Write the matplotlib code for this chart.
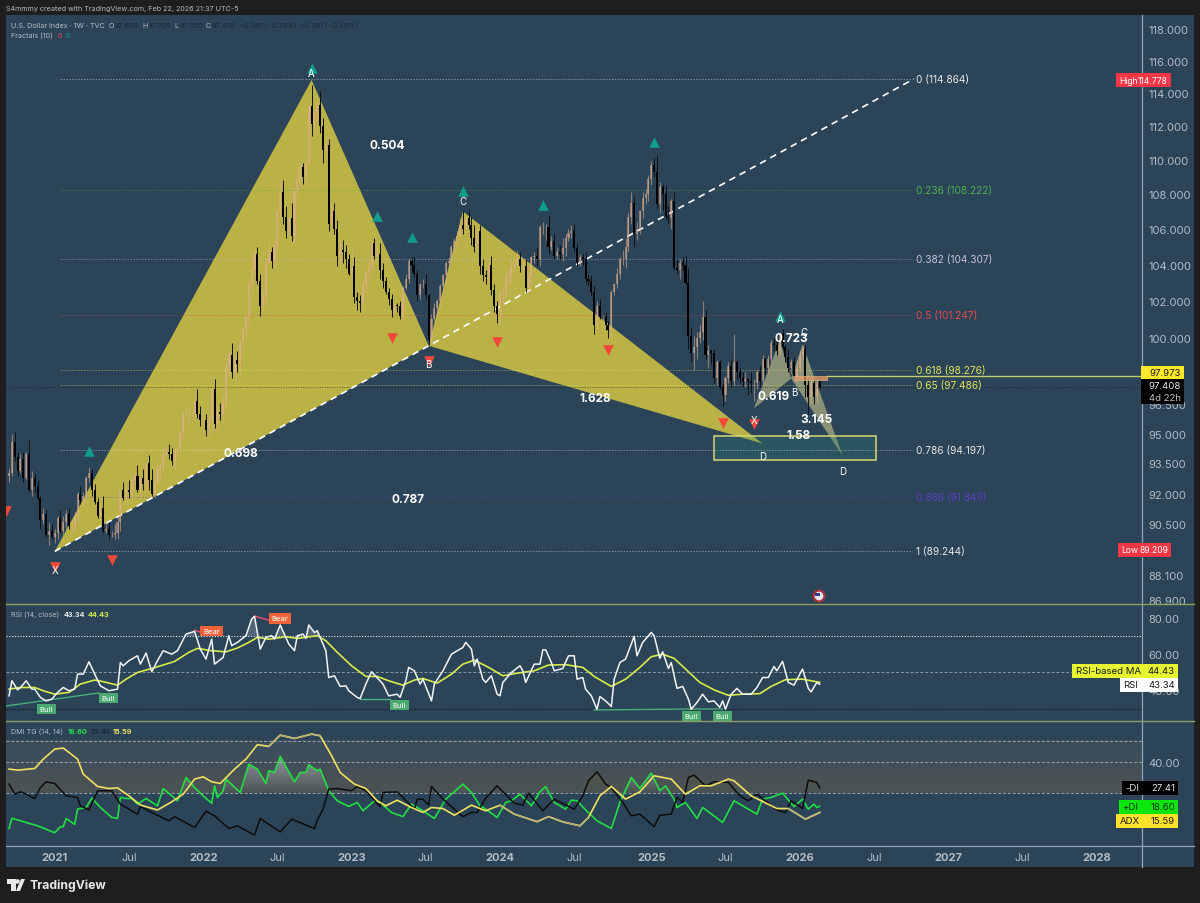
import numpy as np
import pandas as pd
import matplotlib
matplotlib.use("Agg")
import matplotlib.pyplot as plt
from matplotlib.patches import Rectangle, Polygon, Circle
from matplotlib.path import Path
from matplotlib.ticker import NullLocator, FixedLocator, FixedFormatter

plt.rcParams["font.family"] = ["Inter", "DejaVu Sans"]

# weekly closes of DXY (Sep 2020 -> Feb 2026)
close_2020 = [93.0,94.6,93.8,93.1,93.7,92.8,94.0,92.2,92.8,92.4,91.8,90.7,91.0,90.0,90.2,89.9]
close_2021 = [90.1,90.8,90.2,90.6, 91.0,90.4,90.4,90.9, 92.0,91.7,91.9,92.8,93.0, 92.2,91.6,90.9,91.3,
              90.2,90.3,90.0,90.0,90.1, 90.6,92.2,91.8,92.2, 92.1,92.7,92.9,92.2, 92.8,92.5,93.5,92.7,92.0,
              92.6,93.2,93.3,94.0, 94.1,94.0,93.6,94.1, 94.3,95.1,96.0,96.1,96.1, 96.1,96.7,96.0,95.7]
close_2022 = [95.7,95.2,95.6,97.3,95.5, 96.1,96.0,96.6,98.5, 99.1,98.2,98.8,98.6, 99.8,100.5,101.1,103.0,
              103.7,104.6,103.1,101.7,102.2, 104.1,104.7,104.2,105.1, 107.0,108.1,106.7,105.9,
              106.6,105.6,108.2,108.8,109.6, 109.0,109.8,113.2,112.1, 112.8,113.3,112.0,110.6,110.9,
              106.3,107.0,106.0,104.5, 104.8,104.7,104.3,103.5]
close_2023 = [103.9,102.2,102.0,101.9,102.9, 103.6,103.9,105.2,104.5, 104.6,103.7,103.1,102.5, 102.1,101.5,101.8,101.7,
              101.2,102.7,103.2,104.2,104.0, 103.5,102.3,102.9,102.9, 102.3,99.9,101.0,101.6,102.0,
              102.8,103.4,104.1,104.2, 105.0,105.3,105.6,106.2, 106.0,106.6,106.2,105.5,105.0,
              105.9,103.9,103.4,103.3, 104.0,102.6,101.7,101.3]
close_2024 = [102.4,102.4,103.3,103.4,103.9, 104.1,104.3,103.9,103.9, 102.7,103.4,104.4,104.5, 104.3,106.1,106.1,106.1,105.0,
              105.3,104.5,104.7,104.6, 104.9,105.5,105.8,105.9, 104.9,104.1,104.4,104.3,103.2,
              103.1,102.5,100.7,101.7, 101.1,101.1,100.7,100.4,102.5, 102.9,103.5,104.3,104.3,
              105.0,106.7,107.5,105.7, 106.0,107.0,107.8,108.0,108.9]
close_2025 = [109.7,109.3,107.4,108.4, 108.0,106.7,106.6,107.6, 103.8,103.7,104.1,104.0,103.0, 100.1,99.2,99.5,100.0,
              100.3,101.1,99.1,99.3, 99.2,97.9,98.7,97.4,97.0, 97.9,98.5,97.7,98.7, 98.2,97.9,97.7,97.8,
              97.7,97.6,97.6,98.2,97.7, 98.9,98.4,98.9,99.7, 99.6,99.3,100.2,99.5, 99.0,98.4,98.7,98.0,98.4]
close_2026 = [99.1,99.4,97.5,96.9,97.6,96.9,97.698,97.408]

# wick lengths above / below the body, same order
upw_2020 = [.2,.4,.5,.3,.3,.4,.1,.7,.3,.2,.3,.1,.3,.2,.4,.3]
loww_2020 = [.3,.1,.2,.2,.1,.2,.1,.1,.3,.3,.1,.4,.2,.1,.5,.1]
upw_2021 = [.2,.1,.4,.3, .2,.3,.3,.2, .1,.4,.2,.1,.3, .2,.3,.2,.2, .6,.4,.3,.2,.4, .2,.0,.4,.2,
            .5,.1,.2,.5, .1,.4,.0,.4,.5, .1,.3,.2,.4, .3,.4,.3,.2, .0,.1,.1,.2,.2, .1,.2,.6,.4]
loww_2021 = [.3,.3,.1,.2, .3,.1,.2,.3, .3,.2,.3,.4,.2, .3,.1,.1,.2, .1,.1,.2,.1,.2, .3,.4,.1,.2,
             .3,.3,.2,.1, .4,.3,.4,.5,.1, .2,.1,.5,.2, .1,.3,.2,.4, .4,.2,.3,.1,.5, .2,.3,.2,.3]
upw_2022 = [.4,.3,.3,.1,.5, .3,.5,.4,.2, .2,.6,.3,.5, .1,.2,.1,.1, .2,.3,.4,.4,.3, .1,.5,.3,.3,
            .1,.6,.7,.6, .1,.9,.0,.4,.2, .2,.2,.4,1.3, .2,.2,.8,.5,.4, .3,.5,.5,.5, .5,.6,.4,.3]
loww_2022 = [.4,.3,.3,.5,.2, .4,.3,.5,.3, .6,.3,.5,.4, .5,.3,.4,.6, .4,.3,.2,.5,.2, .5,.2,.4,.4,
             .4,.3,.4,.4, .3,.3,.4,.3,.4, .4,.3,.1,.7, .4,.5,.4,.8,.3, .4,.3,.3,.6, .6,.6,.5,.1]
upw_2023 = [.9,.5,.3,.3,.4, .1,.4,.1,.3, .7,.6,.4,.2, .2,.3,.1,.1, .3,.1,.3,.1,.2, .4,.2,.1,.3, .6,.1,.3,.3,.1,
            .1,.1,.1,.2, .1,.2,.3,.4, .8,.1,.5,.5,.7, .1,.3,.4,.3, .2,.5,.3,.3]
loww_2023 = [.3,.3,.5,.5,.5, .4,.6,.2,.2, .2,.5,.4,.1, .3,.4,.2,.3, .2,.3,.1,.2,.4, .2,.3,.2,.2, .2,.3,.2,.1,.4,
             .4,.2,.3,.3, .2,.3,.3,.2, .3,.3,.2,.4,.3, .2,.4,.3,.4, .3,.3,.3,.5]
upw_2024 = [.2,.3,.3,.3,.4, .2,.5,.4,.3, .4,.2,.1,.2, .5,.1,.3,.2,.7, .3,.5,.3,.4, .6,.2,.2,.3,
            .4,.3,.2,.2,.4, .3,.3,.3,.3, .4,.1,.3,.2,.1, .1,.3,.1,.5, .5,.2,.6,.4, .4,.1,.3,.3,.2]
loww_2024 = [.6,.5,.1,.5,.4, .2,.3,.3,.2, .2,.2,.4,.3, .4,.4,.4,.7,.4, .2,.2,.2,.3, .4,.4,.2,.3, .2,.2,.2,.3,.3,
             .3,.2,.5,.2, .1,.2,.3,.4,.4, .2,.2,.3,.3, .5,.3,.4,.7, .3,.3,.4,.4,.4]
upw_2025 = [.2,.4,.9,.3, .2,.5,.6,.1, .5,.5,.2,.3,.5, .8,.5,.6,.3, .4,.9,.4,.3, .1,.2,.1,.1,.2,
            .1,.2,.4,1.5, .1,.2,.3,.4, .1,.5,.2,.1,.3, .2,.1,.2,.2, .3,.4,.1,.3, .1,.4,.2,.3,.4]
loww_2025 = [.4,.3,.2,.5, .9,.2,.3,.6, .1,.2,.5,.3,.1, .7,.5,.9,.6, .3,.4,.2,.7, .6,.3,.4,.1,.6,
             .3,.3,.3,.2, .4,.3,.3,.3, .7,.5,.9,.3,.3, .2,.3,.3,.2, .3,.2,.2,.1, .3,.2,.3,.2,.4]
upw_2026 = [.2,.2,.2,.3,.2,.2,.1,.0]
loww_2026 = [.2,.3,.6,.9,.4,.4,.3,.05]

# RSI line: week number, value
rsi_wk = [0,1,3,4,6,8,9,11,13,15,17,19,21,23,24,26,28,30,32,35,38,39,40,42,45,46,48,50,52,54,57,59,62,65,67,69,71,72,75,77,78,80,83,85,86,88,90,92,93,95,98,100,101,103,104,105,107,108,111,112,114,116,118,119,122,123,125,127,131,133,136,137,139,140,142,144,
          145,148,149,152,155,159,160,162,163,164,166,167,169,171,172,173,176,179,180,181,184,186,187,188,190,191,194,196,198,199,201,202,204,206,207,209,211,212,214,216,219,220,222,225,226,228,229,231,232,234,236,238,239,241,243,245,247,249,250,251,253,255,257,260,262,264,266,268,269,271,273,275,278,280,281,283,284]
rsi_val = [37.0,45.3,40.3,41.6,45.3,40.7,40.7,36.1,34.2,35.2,38.9,41.6,39.8,40.7,49.0,49.0,55.8,49.0,42.5,39.8,40.7,55.4,53.6,56.4,59.1,54.5,60.6,50.3,56.4,61.9,60.0,61.9,71.1,72.6,62.8,57.3,68.3,54.5,58.2,70.2,64.7,66.5,70.2,79.4,80.9,62.8,69.3,70.2,68.3,76.1,65.6,61.9,70.2,71.1,68.7,76.1,72.0,72.9,61.9,47.1,48.1,42.2,42.5,39.8,36.1,35.5,43.5,50.3,43.5,37.0,37.9,36.1,45.3,52.7,50.8,43.5,
           46.2,34.2,43.5,50.8,60.0,63.7,66.5,62.8,53.6,57.3,46.2,44.4,48.1,37.9,37.0,44.4,49.9,53.6,50.8,44.4,54.5,54.5,62.4,62.4,55.4,50.8,52.1,59.1,59.1,46.2,47.1,40.7,37.0,29.6,36.6,34.2,31.1,46.2,55.4,57.3,69.8,59.1,66.5,72.0,70.2,57.7,61.3,52.1,55.4,41.1,42.2,35.2,29.6,33.3,37.9,33.7,34.2,30.6,34.2,29.6,37.9,41.1,37.9,37.9,41.6,47.1,47.1,53.2,50.8,56.0,44.4,42.9,51.8,41.1,39.2,44.4,43.34]
ma_wk = [0,4,9,12,16,21,25,30,33,38,41,45,50,55,58,63,66,71,76,80,84,87,91,97,101,108,111,115,120,125,129,133,138,142,145,150,155,159,163,168,173,178,184,189,195,201,205,211,216,221,225,229,233,237,242,247,252,257,263,267,272,278,284]
ma_val = [40.7,41.6,41.6,39.8,37.9,38.9,43.5,45.7,44.8,42.9,46.2,49.9,52.1,54.5,56.0,61.0,63.2,61.9,61.3,63.4,66.5,69.3,68.3,69.6,68.7,70.2,67.4,61.0,53.6,47.7,47.7,45.3,42.9,45.7,46.6,44.0,49.0,54.5,56.7,52.7,48.1,49.5,50.8,54.0,54.2,52.7,47.7,42.2,46.2,52.7,58.6,60.0,57.7,51.8,44.4,40.3,37.3,37.9,38.2,42.2,45.9,46.2,44.43]

# DMI lines
adx_wk = [0,3,9,12,16,19,24,26,31,35,38,42,46,52,57,61,65,68,71,74,79,83,87,91,95,100,106,109,113,116,121,125,129,132,136,141,145,
          148,152,156,162,167,172,177,185,189,194,200,203,207,211,216,221,226,232,237,242,246,252,254,260,269,273,279,284]
adx_val = [36.4,35.9,36.7,41.2,46.0,46.5,41.2,34.0,28.1,27.1,27.4,23.6,19.2,16.8,20.7,24.4,31.6,32.7,30.3,29.5,36.4,41.2,48.1,47.3,52.7,51.1,53.2,52.4,42.8,34.8,29.2,27.1,21.2,18.8,21.5,18.0,15.6,
           18.0,17.5,14.3,19.1,16.4,19.1,14.8,11.2,13.6,11.1,9.2,13.2,23.6,28.1,22.0,25.5,33.2,31.6,24.4,28.4,28.4,31.6,30.8,23.6,17.5,17.5,12.4,15.59]
pdi_wk = [0,1,6,10,16,18,19,20,23,24,27,29,32,36,38,39,41,43,45,48,52,54,57,59,62,65,68,71,72,73,75,76,81,84,87,90,91,93,95,100,102,104,105,108,109,112,115,119,122,124,128,130,134,138,141,145,
          149,153,155,159,162,165,167,171,174,176,179,183,186,188,191,195,197,199,202,206,211,214,218,221,225,228,230,233,234,237,241,243,250,254,262,264,267,271,275,278,280,282,283,284]
pdi_val = [8.0,12.8,10.8,9.2,5.9,8.8,8.8,12.7,9.9,17.2,18.0,22.5,18.0,13.2,12.7,22.8,22.3,22.3,19.6,22.3,18.8,27.1,23.6,21.2,32.4,27.6,23.6,20.0,28.4,22.8,26.0,31.6,25.2,38.8,36.4,29.5,35.6,34.8,42.5,30.3,34.8,34.8,38.5,35.6,36.4,26.0,21.2,18.5,20.4,16.4,21.2,20.4,15.6,13.6,19.6,16.4,
           12.7,22.0,24.4,29.2,25.2,18.8,17.2,13.2,20.4,21.2,24.4,18.8,25.5,28.1,20.4,17.2,21.5,21.2,16.8,11.6,7.9,20.4,32.4,27.1,34.5,26.0,28.4,22.0,18.0,20.4,12.7,18.0,10.8,21.2,14.8,22.0,22.8,24.9,18.4,22.0,17.2,19.6,18.0,18.60]
mdi_wk = [0,2,4,6,9,11,13,16,20,24,25,28,31,36,39,45,46,50,56,58,65,69,72,77,80,86,88,95,99,107,108,110,112,115,120,122,125,130,131,136,142,143,145,
          147,148,152,159,162,164,167,171,177,180,182,187,191,198,201,203,206,209,211,215,218,221,226,228,232,234,236,238,240,244,247,252,256,259,262,269,272,274,278,280,283,284]
mdi_val = [29.2,24.4,25.5,24.4,22.3,27.6,30.3,29.5,23.6,22.8,18.8,16.8,26.0,26.0,19.6,14.8,18.4,15.6,11.6,13.6,8.4,16.2,14.0,7.9,9.2,4.7,12.7,6.3,12.4,7.9,12.0,17.2,26.8,27.1,26.0,28.1,26.0,18.4,25.2,25.5,17.2,22.0,22.0,
           19.1,28.1,22.0,13.6,15.6,15.6,22.5,28.4,20.0,19.1,24.9,16.4,22.0,17.2,23.6,30.8,35.1,29.2,27.6,20.4,14.0,14.8,8.8,14.3,14.8,22.8,20.4,32.4,33.5,28.4,30.3,30.0,23.6,21.2,24.4,16.8,15.6,21.2,17.5,31.1,30.0,27.41]

# fib levels
fib_lbl = ["0","0.236","0.382","0.5","0.618","0.65","0.786","0.886","1"]
fib_val = [114.864,108.222,104.307,101.247,98.276,97.486,94.197,91.849,89.244]
fib_col = ["#e6e6e6","#4caf50","#c9c0d3","#e5484d","#dfe35a","#dfe35a","#e6e6e6","#5e3fc0","#e6e6e6"]

# harmonic patterns: week number, price
big_xab_wk, big_xab_px = [16,106,147], [89.2,114.8,99.58]
big_bcd_wk, big_bcd_px = [147,159,264], [99.58,107.0,94.5]
small_xab_wk, small_xab_px = [261,270,274], [96.3,99.86,97.85]
small_bcd_wk, small_bcd_px = [274,278,292], [97.85,99.65,93.9]

frac_up_wk, frac_up_px = [106,28,129,141,159,187,226,270], [115.54,94.14,106.73,105.53,108.17,107.36,111.05,101.16]
frac_dn_wk, frac_dn_px = [16,36,134,147,171,210,250,261,-1], [88.47,88.80,99.97,98.75,99.76,99.33,95.57,95.52,91.17]

price_ticks = [118,116,114,112,110,108,106,104,102,100,96.5,95,93.5,92,90.5,88.1,86.9]
year_ticks = ["2021-01-04","2022-01-03","2023-01-02","2024-01-01","2025-01-06","2026-01-05","2027-01-04","2028-01-03"]
year_lbls = ["2021","2022","2023","2024","2025","2026","2027","2028"]
jul_ticks = ["2021-07-05","2022-07-04","2023-07-03","2024-07-01","2025-07-07","2026-07-06","2027-07-05"]

BG, PANEL = "#1e1e1e", "#2b4458"
GREY = "#b4bcc4"
UP = (225/255, 175/255, 140/255, .55)

closes = np.array(close_2020+close_2021+close_2022+close_2023+close_2024+close_2025+close_2026)
upw = np.array(upw_2020+upw_2021+upw_2022+upw_2023+upw_2024+upw_2025+upw_2026)
loww = np.array(loww_2020+loww_2021+loww_2022+loww_2023+loww_2024+loww_2025+loww_2026)
opens = np.r_[92.9, closes[:-1]]
wk = np.arange(len(closes))
start = pd.Timestamp("2020-09-14")


def week_of(day):
    return (pd.Timestamp(day) - start).days / 7


W, H = 1200, 904
fig = plt.figure(figsize=(W/100, H/100), dpi=100, facecolor=BG)
fig.add_artist(Rectangle((6/W, 1-867.5/H), 1188/W, 851.5/H, transform=fig.transFigure,
                         facecolor=PANEL, edgecolor="none", zorder=-1))


def pane(y0, y1):
    ax = fig.add_axes([6/W, 1-y1/H, 1135.5/W, (y1-y0)/H])
    ax.set_facecolor(PANEL)
    for s in ax.spines.values():
        s.set_visible(False)
    ax.yaxis.tick_right()
    ax.tick_params(length=0, labelsize=8, labelcolor=GREY, pad=5)
    ax.set_xticks([])
    ax.set_xlim(-1.07, 396.75)
    return ax


ax = pane(16, 604.5)
ax_rsi = pane(605, 722)
ax_dmi = pane(723, 846)

# main pane
ax.set_yscale("log")
for xs, ys in [(big_xab_wk, big_xab_px), (big_bcd_wk, big_bcd_px)]:
    ax.add_patch(Polygon(np.c_[xs, ys], facecolor="#bab246", edgecolor="none", zorder=2))
for xs, ys in [(small_xab_wk, small_xab_px), (small_bcd_wk, small_bcd_px)]:
    ax.add_patch(Polygon(np.c_[xs, ys], facecolor="#d8d490", alpha=.55, edgecolor="none", zorder=2))

ax.add_patch(Rectangle((247.1, 93.69), 56.8, 1.17, facecolor="#2a8a70", alpha=.25, edgecolor="none", zorder=3))
ax.add_patch(Rectangle((247.1, 93.69), 56.8, 1.17, facecolor="none", edgecolor="#d8d872", lw=1.1, zorder=6))

for lv, col in zip(fib_val, fib_col):
    ax.plot([18, 316.5], [lv, lv], color=col, lw=.7, ls=(0, (1.5, 1.5)), alpha=.45, zorder=4)
ax.axhline(97.408, color="#111111", lw=.7, ls=(0, (1, 1.5)), alpha=.5, zorder=4)
ax.plot([16, 317], [89.2, 114.864], color="white", lw=1.2, ls=(0, (4, 3)), zorder=5)

# candles
up = closes >= opens
lows = np.minimum(opens, closes) - loww
highs = np.maximum(opens, closes) + upw
ax.vlines(wk[up], lows[up], highs[up], color=UP, lw=.8, zorder=7)
ax.bar(wk[up], (closes-opens)[up], bottom=opens[up], width=.72, color=UP, zorder=7)
ax.vlines(wk[~up], lows[~up], highs[~up], color="#111111", lw=.7, zorder=8)
ax.bar(wk[~up], (opens-closes)[~up], bottom=closes[~up], width=.72, color="black", zorder=8)

# orange box and its line out to the scale
ax.add_patch(Rectangle((275, 97.78), 11.4, .22, facecolor="#e09a66", edgecolor="#e0b080", lw=.6, alpha=.8, zorder=9))
ax.plot([286.4, 396.75], [97.973, 97.973], color="#c6cd6e", lw=1, zorder=4)

ax.scatter(frac_up_wk, frac_up_px, marker="^", s=58, color="#0f9d8a", linewidths=0, zorder=9)
ax.scatter(frac_dn_wk, frac_dn_px, marker="v", s=58, color="#f2483a", linewidths=0, zorder=9)
letters = [("C",159,107.6),("D",264,93.85),("B",275,97.12),("C",278.5,100.29),("D",292,93.13),
           ("X",16,88.3),("A",106,115.2),("B",147,98.6),("X",261,95.7),("A",270,101.0)]
for s, xx, yy in letters:
    ax.text(xx, yy, s, color="white", fontsize=7, ha="center", va="center", zorder=11)

ratios = [("0.504",132.5,110.87),("0.698",81.3,94.04),("0.787",139.8,91.75),("1.628",205.4,96.85),
          ("0.723",274,100.02),("0.619",268,96.96),("3.145",283,95.77),("1.58",276.5,94.96)]
for s, xx, yy in ratios:
    ax.text(xx, yy, s, color="white", fontsize=8.5, fontweight="bold", ha="center", va="center", zorder=12)
for s, lv, col in zip(fib_lbl, fib_val, fib_col):
    ax.text(317.6, lv, f"{s} ({lv:.3f})", color=col, fontsize=7.3, va="center", zorder=12)

ax.set_ylim(86.75, 118.86)
ax.yaxis.set_minor_locator(NullLocator())
ax.yaxis.set_major_locator(FixedLocator(price_ticks))
ax.yaxis.set_major_formatter(FixedFormatter([f"{p:.3f}" for p in price_ticks]))

# RSI pane
ax_rsi.axhline(70, color="white", lw=.8, ls=(0, (1, 1.5)), alpha=.9)
ax_rsi.axhline(50, color="#8a9aa6", lw=.7, ls=(0, (3, 2)))
ax_rsi.axhline(30, color="#111111", lw=.8, ls=(0, (1, 1.5)))
rsi_wk_a, rsi_val_a = np.array(rsi_wk), np.array(rsi_val)
ax_rsi.fill_between(rsi_wk_a, rsi_val_a, 70, where=rsi_val_a > 70, interpolate=True, color="white", alpha=.18, lw=0)
ax_rsi.plot([-1, 31.5], [31.4, 38.6], color="#4caf7a", lw=1)
ax_rsi.plot([123, 133.5], [35.5, 35.5], color="#4caf7a", lw=1)
ax_rsi.plot([205, 238.3, 250], [29.2, 29.7, 29.7], color="#4caf7a", lw=1)
ax_rsi.plot([65, 67], [73.3, 72.2], color="#f0506e", lw=1)
ax_rsi.plot([86, 91], [81, 78.8], color="#f0506e", lw=1)
ax_rsi.plot(ma_wk, ma_val, color="#d8ec4a", lw=1.2)
ax_rsi.plot(rsi_wk, rsi_val, color="#f2f4f6", lw=1.1)
ax_rsi.set_ylim(23.1, 87.7)
ax_rsi.set_yticks([80, 60, 40], ["80.00", "60.00", "40.00"])

# DMI pane
dmi_ymin, dmi_ymax = 0, 59
band = np.array([[[60, 78, 92]], [[74, 82, 84]]], dtype=np.uint8)
ax_dmi.imshow(band, extent=[-1.07, 396.75, 25, 50], aspect="auto", interpolation="bilinear", zorder=0)
for lv in (50, 40, 25):
    ax_dmi.axhline(lv, color="#9aa2a6", lw=.7, ls=(0, (3, 2)), zorder=1)


def shade_above(xs, ys, rgb, peak):
    # gradient between the line and the 25 level
    xs, ys = np.array(xs, float), np.array(ys, float)
    coll = ax_dmi.fill_between(xs, ys, 25, where=ys > 25, interpolate=True, alpha=0)
    path = Path.make_compound_path(*coll.get_paths())
    grad = np.zeros((64, 2, 4))
    grad[..., :3] = rgb
    grad[..., 3] = np.linspace(peak, 0, 64)[:, None]
    im = ax_dmi.imshow(grad, extent=[-1.07, 396.75, 25, 45], aspect="auto", zorder=2)
    im.set_clip_path(path, transform=ax_dmi.transData)


shade_above(pdi_wk, pdi_val, (.85, .85, .85), .6)
shade_above(mdi_wk, mdi_val, (.4, .4, .15), .6)

ax_dmi.plot(pdi_wk, pdi_val, color="#22dd44", lw=1.2, zorder=4)
ax_dmi.plot(mdi_wk, mdi_val, color="#0c0c0c", lw=1.1, zorder=4)
adx_wk_a, adx_val_a = np.array(adx_wk), np.array(adx_val)
ax_dmi.plot(adx_wk_a, adx_val_a, color="#f0e060", lw=1.2, zorder=5)
for lo, hi in [(91, 109), (172, 203), (273, 284)]:
    m = (adx_wk_a >= lo) & (adx_wk_a <= hi)
    ax_dmi.plot(adx_wk_a[m], adx_val_a[m], color="#b8b07a", lw=1.2, zorder=5)
ax_dmi.set_ylim(dmi_ymin, dmi_ymax)
ax_dmi.set_xlim(-1.07, 396.75)
ax_dmi.set_yticks([40], ["40.00"])

pos = [week_of(d) for d in year_ticks] + [week_of(d) for d in jul_ticks]
ax_dmi.set_xticks(pos, year_lbls + ["Jul"] * len(jul_ticks))
ax_dmi.tick_params(axis="x", labelsize=8, pad=5)
for i, t in enumerate(ax_dmi.get_xticklabels()):
    if i < len(year_lbls):
        t.set_fontweight("bold")

# overlay in pixel coordinates for the interface parts
ov = fig.add_axes([0, 0, 1, 1], zorder=10)
ov.set_xlim(0, W)
ov.set_ylim(H, 0)
ov.axis("off")
ov.patch.set_alpha(0)

ov.plot([1141.5, 1141.5], [16, 867.5], color="#90a6b6", lw=.9)
ov.plot([6, 1194], [846.5, 846.5], color="#90a6b6", lw=.9)
for yy in (604.7, 722):
    ov.plot([6, 1194], [yy, yy], color="#8e9f62", lw=1)


def txt(x, y, s, color=GREY, size=5.2, **kw):
    ov.text(x, y, s, color=color, fontsize=size, va="center", **kw)


txt(6, 9.5, "S4mmmy created with TradingView.com, Feb 22, 2026 21:37 UTC-5", color="#b8b8b8", size=5.2)
txt(11, 26, "U.S. Dollar Index · 1W · TVC")
DARK = "#1a2a36"
for x, lab, val in [(109, "O", "97.698"), (142, "H", "97.705"), (174, "L", "97.355"), (206, "C", "97.408")]:
    txt(x, 26, lab)
    txt(x+6, 26, val, color=DARK)
txt(239, 26, "−0.381 (−0.39%)", color=DARK)
txt(300, 26, "−0.381 (−0.39%)", color=DARK)
txt(11, 36, "Fractals (10)")
txt(58, 36, "0", color="#e5484d")
txt(66, 36, "0", color="#0f9d8a")
txt(11, 615, "RSI (14, close)")
txt(64, 615, "43.34", color="#e8e8e8", fontweight="bold")
txt(88, 615, "44.43", color="#d8ec4a", fontweight="bold")
txt(11, 732, "DMI TG (14, 14)")
txt(68, 732, "18.60", color="#22dd44", fontweight="bold")
txt(91, 732, "27.41", color=DARK, fontweight="bold")
txt(113, 732, "15.59", color="#f0e060", fontweight="bold")


def tag(x0, x1, y0, y1, color, left, right, tc, size=6.9):
    ov.add_patch(Rectangle((x0, y0), x1-x0, y1-y0, facecolor=color, edgecolor="none", zorder=3))
    ym = (y0+y1)/2
    if left:
        ov.text(x0+3.5, ym, left, color=tc, fontsize=size, va="center", zorder=4)
    ov.text(x1-3, ym, right, color=tc, fontsize=size, va="center", ha="right", zorder=4)


tag(1116, 1171, 74, 88, "#f23645", "High", "114.778", "white", size=6.2)
tag(1118, 1171, 544, 558, "#f23645", "Low", "89.209", "white", size=6.2)
tag(1141, 1184, 367, 380, "#fde92c", "", "97.973", "#1a1a1a")
tag(1141, 1184, 380, 393, "black", "", "97.408", "#e6e6e6")
tag(1141, 1184, 393, 405, "black", "", "4d 22h", "#bdbdbd")
tag(1072, 1178, 665, 679, "#e6f52f", "RSI-based MA", "44.43", "#1a1a1a")
tag(1120, 1178, 679, 692.5, "white", "RSI", "43.34", "#1a1a1a")
tag(1122, 1178, 782, 796, "black", "-DI", "27.41", "#e6e6e6")
tag(1119, 1178, 801, 815, "#0ce60c", "+DI", "18.60", "#143214")
tag(1116, 1178, 815, 829, "#ffe32a", "ADX", "15.59", "#1a1a1a")

for x0, x1, y0, y1 in [(200, 223, 627, 637), (269, 291, 614, 625)]:
    ov.add_patch(Rectangle((x0, y0), x1-x0, y1-y0, facecolor="#f0623a", edgecolor="none"))
    ov.text((x0+x1)/2, (y0+y1)/2, "Bear", color="white", fontsize=5.6, ha="center", va="center")
for x0, x1, y0, y1 in [(37, 56, 705, 715), (99, 118, 693.5, 704), (390, 409, 701, 711), (682, 701, 712, 722), (713, 732, 712, 722)]:
    ov.add_patch(Rectangle((x0, y0), x1-x0, y1-y0, facecolor="#4aa870", edgecolor="none"))
    ov.text((x0+x1)/2, (y0+y1)/2, "Bull", color="white", fontsize=5.6, ha="center", va="center")

# small flag badge
ov.add_patch(Circle((819, 597), 5.5, facecolor="#e8e8f0", edgecolor="#a8323a", lw=1.6))
ov.add_patch(Rectangle((815, 594), 5, 3, facecolor="#2a3f8f", edgecolor="none"))

# logo
ov.add_patch(Polygon([(7, 880), (16, 880), (16, 892), (11, 892), (11, 885), (7, 885)], facecolor="#e8e8e8", edgecolor="none"))
ov.add_patch(Circle((17.5, 882.5), 2.3, facecolor="#e8e8e8", edgecolor="none"))
ov.add_patch(Polygon([(21, 880), (25, 880), (20, 892), (16, 892)], facecolor="#e8e8e8", edgecolor="none"))
ov.text(30, 885.5, "TradingView", color="#e8e8e8", fontsize=8.8, fontweight="bold", va="center")

fig.savefig("out.png", dpi=100, facecolor=BG)
